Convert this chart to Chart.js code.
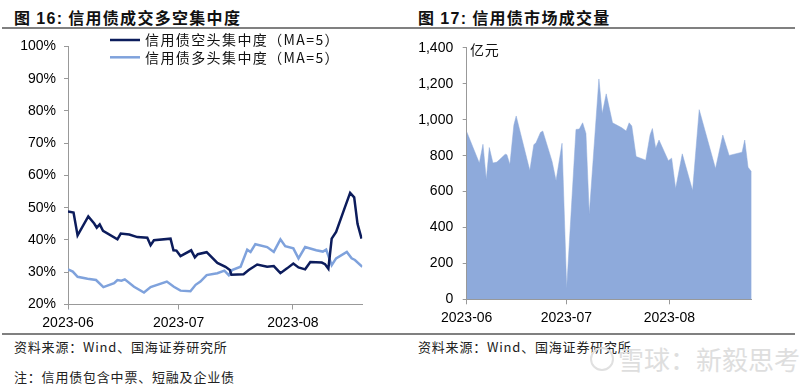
<!DOCTYPE html>
<html><head><meta charset="utf-8">
<script src="https://cdn.jsdelivr.net/npm/chart.js@4.4.0/dist/chart.umd.min.js"></script>
<style>
html,body{margin:0;padding:0;background:#fff;}
body{width:800px;height:388px;position:relative;overflow:hidden;font-family:"Noto Sans CJK SC","Liberation Sans",sans-serif;}
.t{position:absolute;font-size:16px;font-weight:bold;color:#111;white-space:nowrap;line-height:22px;letter-spacing:1.3px;}
.hr{position:absolute;left:2px;width:793px;height:2px;background:#808080;}
.src{position:absolute;font-size:13px;color:#222;white-space:nowrap;line-height:18px;letter-spacing:0.8px;}
canvas{position:absolute;}
.wm{position:absolute;font-size:26px;color:#dedede;white-space:nowrap;line-height:34px;}
</style></head><body>
<div class="t" style="left:14px;top:6px">图 <span style="font-family:'Liberation Sans'">16:</span> 信用债成交多空集中度</div>
<div class="t" style="left:418px;top:6px">图 <span style="font-family:'Liberation Sans'">17:</span> 信用债市场成交量</div>
<div class="hr" style="top:27px"></div>
<div class="hr" style="top:333px"></div>
<canvas id="c1" width="400" height="300" style="left:0;top:30px"></canvas>
<canvas id="c2" width="400" height="300" style="left:400px;top:30px"></canvas>
<div class="src" style="left:470px;top:40px;font-size:14px;color:#111">亿元</div>
<div class="src" style="left:14px;top:338px">资料来源：Wind、国海证券研究所</div>
<div class="src" style="left:418px;top:338px">资料来源：Wind、国海证券研究所</div>
<div class="src" style="left:14px;top:368px">注：信用债包含中票、短融及企业债</div>
<div style="position:absolute;left:590px;top:347px;width:20px;height:20px;border:2px solid #e0e0e0;border-radius:50%"></div>
<div class="wm" style="left:618px;top:342px">雪球：新毅思考</div>
<script>
// Day offsets from 2023-06-01
const monthLabels = ['2023-06','2023-07','2023-08'];
const monthDays = [0,30,61];

// Figure 16: short / long concentration (MA=5), %
const shortDays = [0,1.5,2.6,5.5,7.1,7.8,8.6,9.5,13.4,14.3,16.6,18.8,21.5,22.4,23.3,27.8,28.6,29.4,30.5,33.4,34.4,35.2,37.6,40.5,42.7,43.9,44.3,47.6,49,51.3,54,55.8,57.6,59.4,61.1,62.5,64.3,65.7,68.8,69.7,70.6,71.5,72.7,75.1,76.5,77.6,78.5,79.6];
const shortVals = [48.8,48.5,41.4,47.3,45.1,43.8,44.8,42.8,40.2,42,41.7,40.9,40.7,38.4,39.9,40.4,36.8,36.7,35,36.8,34.6,35.6,36.2,32.9,31.7,30.7,29.2,29.4,30.7,32.4,31.7,31.9,29.7,31.2,32.7,31.5,30.9,33.2,33,32.5,31.1,40.4,42.5,50.2,54.6,53.2,45,40.4];
const longDays = [0,1.3,2.6,5.3,7.6,9.6,12.5,13.4,14.5,15.4,17.9,20.6,22.4,26.8,28.7,30.5,33.2,34.6,35.9,37.6,40.5,42.4,43.6,44.5,46.8,48.6,49.5,50.8,54,55.8,57.6,58.9,61.1,62.5,64.3,67.3,69.1,70,71.5,72.7,75.6,76.9,77.8,79.8];
const longVals = [30.9,30.2,28.6,28,27.6,25.4,26.6,27.6,27.4,27.8,25.5,23.7,25.4,27.1,25.5,24.3,24.1,26.1,27.1,29.1,29.7,30.5,29.1,30.7,31.7,37,36.3,38.7,37.8,36.3,40.2,38.1,37.4,34.3,37.8,36.8,36.4,37,32.2,34.3,36.3,34.3,33.8,31.7];
const seriesNames = ['信用债空头集中度（MA=5）','信用债多头集中度（MA=5）'];
const pctTicks = [20,100,10];

// Figure 17: credit bond trading volume, 100 million yuan
const volDays = [0,3.8,4.9,5.9,6.8,7.9,9.1,11.6,12.1,13,14.2,14.9,19,20.2,20.9,22.2,22.9,25.7,26.9,28.7,30.1,32.9,33.9,34.9,35.9,36.9,39.8,40.8,42,43.9,46.7,48,48.9,49.7,51,53.9,55.2,55.9,56.9,57.9,60.7,61.7,62.9,64.9,68,70,74.9,77.1,79,82.9,83.7,84.7,85.8];
const volVals = [933,759,863,667,845,759,764,808,805,750,970,1021,717,860,873,929,937,768,661,869,61,946,948,983,924,474,1227,1034,1144,983,955,937,983,965,795,775,915,951,841,887,772,786,617,810,606,1056,728,915,801,819,887,735,709];
const volTicks = [0,1400,200];

const pts = (xs, ys) => xs.map((x,i)=>({x:x, y:ys[i]}));
const AX = '#999';
const tickFont = {family:'Liberation Sans, Arial, sans-serif', size:14};

function xAxis(max, h){
  return {
    type:'linear', min:0, max:max,
    afterBuildTicks(s){ s.ticks = monthDays.map(v=>({value:v})); },
    ticks:{autoSkip:false, maxRotation:0, padding:5, color:'#000', font:tickFont,
      callback:(v,i)=>monthLabels[i]},
    grid:{drawOnChartArea:false, drawTicks:true, tickLength:5, color:AX},
    border:{color:AX, width:1},
    afterFit(s){ s.height = h; }
  };
}
function yAxis(t, w, fmt, pad){
  return {
    min:t[0], max:t[1],
    ticks:{stepSize:t[2], padding:pad, color:'#000', font:tickFont, callback:fmt},
    grid:{drawOnChartArea:false, drawTicks:true, tickLength:4, color:AX},
    border:{color:AX, width:1},
    afterFit(s){ s.width = w; }
  };
}

const legendPlugin = {
  id:'inlineLegend',
  afterDraw(chart){
    const ctx = chart.ctx;
    ctx.save();
    chart.data.datasets.forEach((ds,i)=>{
      const y = 10 + i*17.3;
      ctx.strokeStyle = ds.borderColor; ctx.lineWidth = 2.5;
      ctx.beginPath(); ctx.moveTo(110,y); ctx.lineTo(140,y); ctx.stroke();
      ctx.fillStyle = '#111';
      ctx.font = '14px "Noto Sans CJK SC", sans-serif';
      try { ctx.letterSpacing = '1.4px'; } catch(e){}
      ctx.textBaseline = 'middle'; ctx.textAlign = 'left';
      ctx.fillText(ds.label, 145, y);
    });
    ctx.restore();
  }
};

new Chart(document.getElementById('c1'), {
  type:'line',
  data:{datasets:[
    {label:seriesNames[0], data:pts(shortDays,shortVals), borderColor:'#0c1c5c', borderWidth:2.5, pointRadius:0, tension:0, fill:false},
    {label:seriesNames[1], data:pts(longDays,longVals), borderColor:'#7fa2dc', borderWidth:2.5, pointRadius:0, tension:0, fill:false}
  ]},
  options:{
    responsive:false, animation:false,
    layout:{padding:{left:0, top:14.7, right:37.7, bottom:0}},
    plugins:{legend:{display:false}, tooltip:{enabled:false}},
    scales:{
      x:xAxis(Math.max(shortDays[shortDays.length-1], longDays[longDays.length-1]), 25.5),
      y:yAxis(pctTicks, 68, v=>v+'%', 8)
    }
  },
  plugins:[legendPlugin]
});

new Chart(document.getElementById('c2'), {
  type:'line',
  data:{datasets:[
    {label:'成交量', data:pts(volDays,volVals), borderColor:'#8eaadb', backgroundColor:'#8eaadb', borderWidth:0.5, pointRadius:0, tension:0, fill:'origin'}
  ]},
  options:{
    responsive:false, animation:false,
    layout:{padding:{left:0, top:15.7, right:48.3, bottom:0}},
    plugins:{legend:{display:false}, tooltip:{enabled:false}},
    scales:{
      x:xAxis(volDays[volDays.length-1], 30.7),
      y:yAxis(volTicks, 66.7, v=>v.toLocaleString('en-US'), 9.5)
    }
  }
});
</script>
</body></html>
